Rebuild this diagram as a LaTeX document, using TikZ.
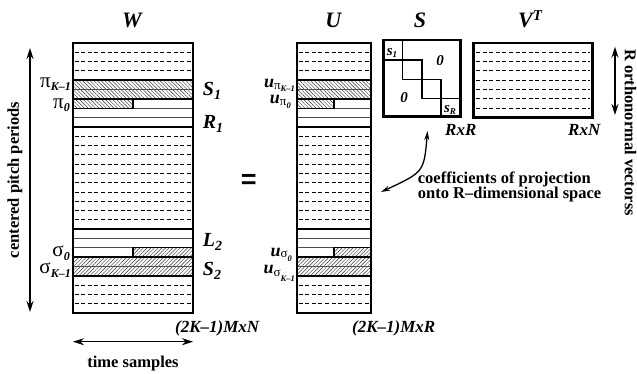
\documentclass[tikz,border=0pt]{standalone}
\usepackage{fontspec}
\setmainfont{Liberation Serif}
\newfontfamily\eqfont{Liberation Sans}
\usetikzlibrary{arrows.meta,patterns.meta}
\newcommand\bi{\bfseries\itshape}
\newcommand\fs[1]{\fontsize{#1}{#1}\selectfont}
\newcommand\ry[1]{43+9.3103*#1}
\tikzset{
  box/.style={line width=2.6pt},
  thk/.style={line width=1.9pt},
  thn/.style={line width=0.8pt,black!70},
  mid/.style={line width=1.2pt},
  dl/.style={line width=0.9pt,dash pattern=on 4pt off 2.6pt},
  hatchA/.style={pattern={Lines[angle=-45,distance=2.6pt,line width=0.45pt]},pattern color=black!80},
  hatchB/.style={pattern={Lines[angle=45,distance=2.6pt,line width=0.45pt]},pattern color=black!80},
  dbl/.style={{Stealth[length=11pt,width=7pt]}-{Stealth[length=11pt,width=7pt]},line width=1.4pt},
  cdbl/.style={{Stealth[length=9pt,width=5pt]}-{Stealth[length=9pt,width=5pt]},line width=1.3pt},
  lab/.style={inner sep=0pt,anchor=base},
}
\newcommand\drawcol[3]{%
  \fill[hatchA] (#1,{\ry{4}}) rectangle (#2,{\ry{6}});
  \fill[hatchA] (#1,{\ry{6}}) rectangle (#3,{\ry{7}});
  \fill[hatchB] (#3,{\ry{22}}) rectangle (#2,{\ry{23}});
  \fill[hatchB] (#1,{\ry{23}}) rectangle (#2,{\ry{25}});
  \foreach \i in {1,2,3,10,11,12,13,14,15,16,17,18,19,26,27,28}
    \draw[dl] ({#1+1.5},{\ry{\i}}) -- ({#2-1.5},{\ry{\i}});
  \foreach \i in {5,7,8,21,22,24}
    \draw[thn] (#1,{\ry{\i}}) -- (#2,{\ry{\i}});
  \draw[mid] (#1,{\ry{7}}) -- (#3,{\ry{7}}) -- (#3,{\ry{6}});
  \draw[mid] (#3,{\ry{23}}) -- (#3,{\ry{22}}) -- (#2,{\ry{22}});
  \foreach \i in {4,6,9,20,23,25}
    \draw[thk] (#1,{\ry{\i}}) -- (#2,{\ry{\i}});
  \draw[box] (#1,43) rectangle (#2,313);
}
\begin{document}
\begin{tikzpicture}[x=1pt,y=-1pt]
\useasboundingbox (0,0) rectangle (637,373);
% titles
\node[lab] (tW) at (132,27.5) {\fs{22}\bi W};
\node[lab] (tU) at (333.3,27.5) {\fs{22}\bi U};
\node[lab] (tS) at (420,27.5) {\fs{22}\bi S};
\node[lab] (tV) at (530,27.5) {\fs{22}\bi V\raisebox{7.5pt}{\fs{15}T}};
% matrices W and U
\drawcol{73}{193}{133}
\drawcol{297}{371}{334}
% S matrix
\draw[line width=1.5pt] (402.7,40) -- (402.7,60) -- (422,60) -- (422,79.3) -- (441,79.3) -- (441,98.3) -- (460.5,98.3);
\draw[line width=1.5pt] (383.5,60) -- (402.7,60) -- (402.7,79.3) -- (422,79.3) -- (422,98.3) -- (441,98.3) -- (441,116.5);
\draw[box] (383.5,40) rectangle (460.5,116.5);
\node[lab] (s1) at (392,55.5) {\fs{15}\bi s\raisebox{-2pt}{\fs{9}1}};
\node[lab] (sR) at (450,112) {\fs{15}\bi s\raisebox{-2pt}{\fs{9}R}};
\node[lab] (z1) at (440,65) {\fs{15}\bi 0};
\node[lab] (z2) at (404,102.5) {\fs{15}\bi 0};
% V^T matrix
\foreach \i in {1,...,7}
  \draw[dl] (476,{\ry{\i}}) -- (590,{\ry{\i}});
\draw[box] (473.3,43) rectangle (592.7,{\ry{8}});
% size labels
\node[lab,anchor=base west] (mW) at (175,332.5) {\fs{17}\bi (2K–1)MxN};
\node[lab,anchor=base west] (mU) at (352,332.5) {\fs{17}\bi (2K–1)MxR};
\node[lab,anchor=base west] (mS) at (445,135.5) {\fs{17}\bi RxR};
\node[lab,anchor=base west] (mV) at (568,135.5) {\fs{17}\bi RxN};
% left labels of W
\node[lab,anchor=base east] (pK) at (71,87.5) {\fs{21}π\raisebox{-3pt}{\fs{12}\bi K–1}};
\node[lab,anchor=base east] (p0) at (70,108) {\fs{21}π\raisebox{-3.5pt}{\fs{12}\bi 0}};
\node[lab,anchor=base east] (g0) at (70,256) {\fs{21}σ\raisebox{-4pt}{\fs{12}\bi 0}};
\node[lab,anchor=base east] (gK) at (71,273.5) {\fs{21}σ\raisebox{-3.5pt}{\fs{12}\bi K–1}};
% right labels of W
\node[lab,anchor=base west] (S1) at (202.7,95) {\fs{20}\bi S\raisebox{-4pt}{\fs{14}1}};
\node[lab,anchor=base west] (R1) at (202.7,128) {\fs{20}\bi R\raisebox{-4pt}{\fs{14}1}};
\node[lab,anchor=base west] (L2) at (202.7,246.7) {\fs{20}\bi L\raisebox{-4pt}{\fs{14}2}};
\node[lab,anchor=base west] (S2) at (202.7,275) {\fs{20}\bi S\raisebox{-4pt}{\fs{14}2}};
% equals
\node[lab] (eq) at (248.7,188.5) {\fs{27}\eqfont\bfseries =};
% labels of U
\node[lab,anchor=base east] (uK) at (295,87.5) {\fs{18}\bi u\raisebox{-1.5pt}{\fs{13}\normalfont π\raisebox{-2pt}{\fs{8.5}\bi K–1}}};
\node[lab,anchor=base east] (u0) at (291,103) {\fs{18}\bi u\raisebox{-2.5pt}{\fs{13}\normalfont π\raisebox{-3pt}{\fs{8.5}\bi 0}}};
\node[lab,anchor=base east] (v0) at (292,256) {\fs{18}\bi u\raisebox{-1.5pt}{\fs{13}\normalfont σ\raisebox{-4pt}{\fs{8.5}\bi 0}}};
\node[lab,anchor=base east] (vK) at (295,273.5) {\fs{18}\bi u\raisebox{-2.5pt}{\fs{13}\normalfont σ\raisebox{-5pt}{\fs{8.5}\bi K–1}}};
% arrows
\coordinate (la1) at (30,48);
\coordinate (la2) at (30,312);
\draw[dbl] (la1) -- (la2);
\node[rotate=90,inner sep=0pt] (cpp) at (15,180) {\fs{16.5}\bfseries centered pitch periods};
\coordinate (ta1) at (73,341.7);
\coordinate (ta2) at (193,341.7);
\draw[dbl] (ta1) -- (ta2);
\node[lab] (ts) at (133,367) {\fs{16.5}\bfseries time samples};
\coordinate (ra1) at (615,46.7);
\coordinate (ra2) at (615,115);
\draw[dbl] (ra1) -- (ra2);
\node[rotate=-90,inner sep=0pt] (ron) at (630.5,132.5) {\fs{16.5}\bfseries R orthonormal vectorss};
\coordinate (ca1) at (427.5,131);
\coordinate (ca2) at (381,192);
\draw[cdbl] (ca1) .. controls (424,172) .. (ca2);
\node[lab,anchor=base west] (cf1) at (417.7,183) {\fs{16.5}\bfseries coefficients of projection};
\node[lab,anchor=base west] (cf2) at (417.7,198.5) {\fs{16.5}\bfseries onto R–dimensional space};
\end{tikzpicture}
\end{document}
